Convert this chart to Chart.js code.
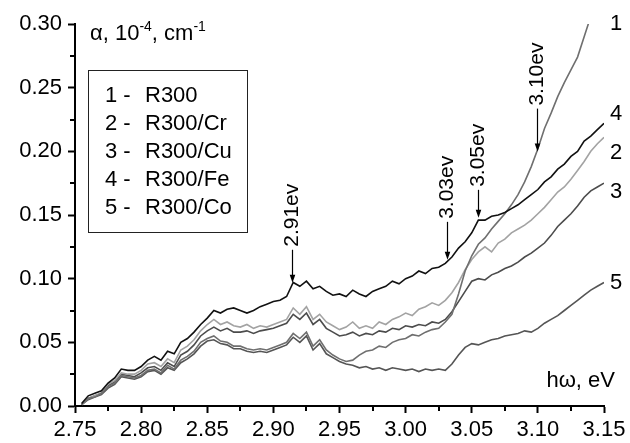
<!DOCTYPE html>
<html>
<head>
<meta charset="utf-8">
<script src="https://cdn.jsdelivr.net/npm/chart.js@4.4.1/dist/chart.umd.min.js"></script>
<style>
  html, body { margin: 0; padding: 0; background: #fff; }
  #wrap { width: 630px; height: 443px; }
</style>
</head>
<body>
<div id="wrap"><canvas id="absChart" width="630" height="443"></canvas></div>
<script>
// photon energy, eV (step 0.005)
const energy = [
  2.755, 2.760, 2.765, 2.770, 2.775, 2.780, 2.785, 2.790, 2.795, 2.800,
  2.805, 2.810, 2.815, 2.820, 2.825, 2.830, 2.835, 2.840, 2.845, 2.850,
  2.855, 2.860, 2.865, 2.870, 2.875, 2.880, 2.885, 2.890, 2.895, 2.900,
  2.905, 2.910, 2.915, 2.920, 2.925, 2.930, 2.935, 2.940, 2.945, 2.950,
  2.955, 2.960, 2.965, 2.970, 2.975, 2.980, 2.985, 2.990, 2.995, 3.000,
  3.005, 3.010, 3.015, 3.020, 3.025, 3.030, 3.035, 3.040, 3.045, 3.050,
  3.055, 3.060, 3.065, 3.070, 3.075, 3.080, 3.085, 3.090, 3.095, 3.100,
  3.105, 3.110, 3.115, 3.120, 3.125, 3.130, 3.135, 3.140, 3.145, 3.150
];

// absorption, 10^-4 cm^-1
const r300 = [
  0.001, 0.006, 0.007, 0.010, 0.015, 0.018, 0.024, 0.023, 0.022, 0.024,
  0.028, 0.029, 0.026, 0.032, 0.029, 0.036, 0.039, 0.043, 0.050, 0.053,
  0.055, 0.051, 0.050, 0.047, 0.047, 0.045, 0.044, 0.045, 0.044, 0.046,
  0.048, 0.050, 0.057, 0.053, 0.058, 0.047, 0.052, 0.044, 0.040, 0.037,
  0.035, 0.036, 0.040, 0.043, 0.044, 0.047, 0.046, 0.050, 0.052, 0.053,
  0.056, 0.055, 0.058, 0.060, 0.061, 0.066, 0.072, 0.088, 0.106, 0.118,
  0.127, 0.132, 0.139, 0.145, 0.151, 0.158, 0.166, 0.176, 0.188, 0.202,
  0.218, 0.230, 0.243, 0.254, 0.264, 0.274, 0.290, 0.306, null, null
];
const r300Cr = [
  0.001, 0.006, 0.008, 0.010, 0.017, 0.020, 0.026, 0.025, 0.025, 0.028,
  0.033, 0.034, 0.031, 0.037, 0.034, 0.044, 0.047, 0.052, 0.059, 0.064,
  0.068, 0.064, 0.066, 0.063, 0.062, 0.064, 0.061, 0.063, 0.062, 0.064,
  0.066, 0.068, 0.077, 0.072, 0.078, 0.068, 0.072, 0.066, 0.063, 0.060,
  0.062, 0.066, 0.061, 0.063, 0.061, 0.066, 0.064, 0.068, 0.070, 0.073,
  0.071, 0.076, 0.078, 0.081, 0.079, 0.083, 0.089, 0.097, 0.107, 0.115,
  0.121, 0.125, 0.121, 0.128, 0.131, 0.136, 0.139, 0.142, 0.146, 0.151,
  0.156, 0.162, 0.168, 0.172, 0.178, 0.185, 0.192, 0.200, 0.206, 0.211
];
const r300Cu = [
  0.001, 0.006, 0.008, 0.010, 0.016, 0.019, 0.025, 0.024, 0.023, 0.026,
  0.030, 0.031, 0.028, 0.034, 0.031, 0.040, 0.043, 0.048, 0.055, 0.059,
  0.062, 0.059, 0.061, 0.058, 0.058, 0.059, 0.057, 0.059, 0.060, 0.061,
  0.063, 0.065, 0.072, 0.068, 0.073, 0.064, 0.068, 0.061, 0.058, 0.055,
  0.056, 0.058, 0.055, 0.057, 0.056, 0.059, 0.058, 0.061, 0.060, 0.063,
  0.062, 0.064, 0.063, 0.066, 0.065, 0.068, 0.074, 0.082, 0.090, 0.098,
  0.100, 0.099, 0.103, 0.105, 0.108, 0.110, 0.113, 0.117, 0.120, 0.124,
  0.128, 0.134, 0.141, 0.146, 0.151, 0.157, 0.164, 0.169, 0.172, 0.175
];
const r300Fe = [
  0.002, 0.008, 0.010, 0.012, 0.018, 0.022, 0.029, 0.028, 0.028, 0.031,
  0.036, 0.039, 0.036, 0.043, 0.041, 0.050, 0.053, 0.058, 0.064, 0.069,
  0.075, 0.073, 0.076, 0.077, 0.075, 0.073, 0.075, 0.078, 0.080, 0.082,
  0.083, 0.086, 0.097, 0.094, 0.098, 0.092, 0.094, 0.090, 0.087, 0.088,
  0.086, 0.091, 0.088, 0.086, 0.090, 0.092, 0.094, 0.098, 0.096, 0.100,
  0.102, 0.106, 0.104, 0.108, 0.109, 0.112, 0.117, 0.124, 0.129, 0.136,
  0.146, 0.146, 0.149, 0.150, 0.152, 0.155, 0.158, 0.162, 0.166, 0.170,
  0.176, 0.180, 0.186, 0.190, 0.196, 0.200, 0.208, 0.212, 0.217, 0.222
];
const r300Co = [
  0.001, 0.005, 0.007, 0.009, 0.014, 0.017, 0.023, 0.022, 0.021, 0.023,
  0.027, 0.028, 0.025, 0.030, 0.028, 0.034, 0.037, 0.041, 0.047, 0.051,
  0.052, 0.049, 0.048, 0.045, 0.045, 0.043, 0.042, 0.043, 0.042, 0.044,
  0.046, 0.048, 0.054, 0.050, 0.055, 0.044, 0.049, 0.041, 0.038, 0.035,
  0.033, 0.032, 0.030, 0.031, 0.029, 0.030, 0.028, 0.030, 0.029, 0.028,
  0.029, 0.027, 0.029, 0.028, 0.029, 0.028, 0.033, 0.040, 0.046, 0.049,
  0.048, 0.050, 0.052, 0.053, 0.055, 0.056, 0.057, 0.059, 0.058, 0.061,
  0.065, 0.068, 0.071, 0.075, 0.079, 0.083, 0.087, 0.091, 0.094, 0.097
];

const sampleNames = ["R300", "R300/Cr", "R300/Cu", "R300/Fe", "R300/Co"];
const curveNumbers = ["1", "2", "3", "4", "5"];
// where the number of each curve sits at the right edge (value units)
const curveLabelValue = [0.300, 0.199, 0.168, 0.229, 0.097];

// arrow marks on curve 4
const peakEnergy = [2.914, 3.031, 3.055, 3.099];
const peakLabels = ["2.91ev", "3.03ev", "3.05ev", "3.10ev"];
const peakValue = [0.096, 0.114, 0.147, 0.199];
const arrowLen = [33, 38, 28, 43];

const lineColors = ["#6f6f6f", "#a3a3a3", "#4c4c4c", "#111111", "#555555"];
const FONT = "Liberation Sans, Arial, sans-serif";

const series = [r300, r300Cr, r300Cu, r300Fe, r300Co];
const toPoints = (arr) => energy.map((e, i) => ({ x: e, y: arr[i] }));

// black curve drawn last (dataset 0 ends on top)
const drawOrder = [3, 0, 1, 2, 4];
const datasets = drawOrder.map((k) => ({
  label: sampleNames[k],
  data: toPoints(series[k]),
  borderColor: lineColors[k],
  borderWidth: 1.6,
  pointRadius: 0,
  tension: 0,
  spanGaps: false,
}));

const overlay = {
  id: "overlay",
  afterDraw(chart) {
    const { ctx, chartArea } = chart;
    const xs = chart.scales.x;
    const ys = chart.scales.y;
    ctx.save();
    ctx.fillStyle = "#000";
    ctx.strokeStyle = "#000";

    // minor ticks
    ctx.lineWidth = 2;
    ctx.beginPath();
    for (let v = 2.775; v < 3.15; v += 0.05) {
      const px = Math.round(xs.getPixelForValue(v));
      ctx.moveTo(px, chartArea.bottom);
      ctx.lineTo(px, chartArea.bottom + 5);
    }
    for (let v = 0.025; v < 0.3; v += 0.05) {
      const py = Math.round(ys.getPixelForValue(v));
      ctx.moveTo(chartArea.left, py);
      ctx.lineTo(chartArea.left - 5, py);
    }
    ctx.stroke();

    // y axis title with superscripts
    ctx.textBaseline = "alphabetic";
    ctx.textAlign = "left";
    let tx = chartArea.left + 15;
    const ty = chartArea.top + 16;
    const big = "22px " + FONT;
    const small = "14px " + FONT;
    const parts = [["\u03b1, 10", big, 0], ["-4", small, -9], [", cm", big, 0], ["-1", small, -9]];
    parts.forEach(([t, f, dy]) => {
      ctx.font = f;
      ctx.fillText(t, tx, ty + dy);
      tx += ctx.measureText(t).width;
    });

    // x axis title
    ctx.font = big;
    ctx.textAlign = "right";
    ctx.fillText("h\u03c9, eV", chartArea.right + 11, chartArea.bottom - 19);

    // legend box
    const bx = chartArea.left + 13;
    const by = chartArea.top + 46;
    ctx.lineWidth = 1;
    ctx.strokeStyle = "#222";
    ctx.strokeRect(bx + 0.5, by + 0.5, 159, 162);
    ctx.textAlign = "left";
    ctx.textBaseline = "middle";
    sampleNames.forEach((name, i) => {
      const ly = by + 26 + i * 28;
      ctx.fillText(curveNumbers[i] + " -", bx + 17, ly);
      ctx.fillText(name, bx + 57, ly);
    });

    // curve numbers at right
    curveNumbers.forEach((n, i) => {
      ctx.fillText(n, chartArea.right + 6, ys.getPixelForValue(curveLabelValue[i]));
    });

    // arrows with rotated labels
    ctx.lineWidth = 1.2;
    ctx.strokeStyle = "#000";
    peakEnergy.forEach((e, i) => {
      const px = Math.round(xs.getPixelForValue(e)) + 0.5;
      const tip = ys.getPixelForValue(peakValue[i]) - 1;
      const top = tip - arrowLen[i];
      ctx.beginPath();
      ctx.moveTo(px, top);
      ctx.lineTo(px, tip - 6);
      ctx.stroke();
      ctx.beginPath();
      ctx.moveTo(px, tip);
      ctx.lineTo(px - 2.8, tip - 8);
      ctx.lineTo(px + 2.8, tip - 8);
      ctx.closePath();
      ctx.fill();
      ctx.save();
      ctx.translate(px, top - 3);
      ctx.rotate(-Math.PI / 2);
      ctx.font = "21px " + FONT;
      ctx.textAlign = "left";
      ctx.textBaseline = "middle";
      ctx.fillText(peakLabels[i], 0, 0);
      ctx.restore();
    });
    ctx.restore();
  },
};

new Chart(document.getElementById("absChart"), {
  type: "line",
  data: { datasets },
  options: {
    responsive: false,
    animation: false,
    layout: { padding: { top: 24, right: 26, left: 0, bottom: 0 } },
    plugins: { legend: { display: false }, tooltip: { enabled: false } },
    scales: {
      x: {
        type: "linear",
        min: 2.75,
        max: 3.15,
        ticks: {
          stepSize: 0.05,
          color: "#000",
          padding: 4,
          font: { family: FONT, size: 22 },
          callback: (v) => v.toFixed(2),
        },
        grid: { drawOnChartArea: false, drawTicks: true, tickLength: 7, tickWidth: 2, tickColor: "#000" },
        border: { color: "#000", width: 2 },
        afterFit: (scale) => { scale.height = 37; },
      },
      y: {
        min: 0,
        max: 0.3,
        ticks: {
          stepSize: 0.05,
          color: "#000",
          padding: 6,
          font: { family: FONT, size: 22 },
          callback: (v) => v.toFixed(2),
        },
        grid: { drawOnChartArea: false, drawTicks: true, tickLength: 7, tickWidth: 2, tickColor: "#000" },
        border: { color: "#000", width: 2 },
        afterFit: (scale) => { scale.width = 75; },
      },
    },
  },
  plugins: [overlay],
});
</script>
</body>
</html>
